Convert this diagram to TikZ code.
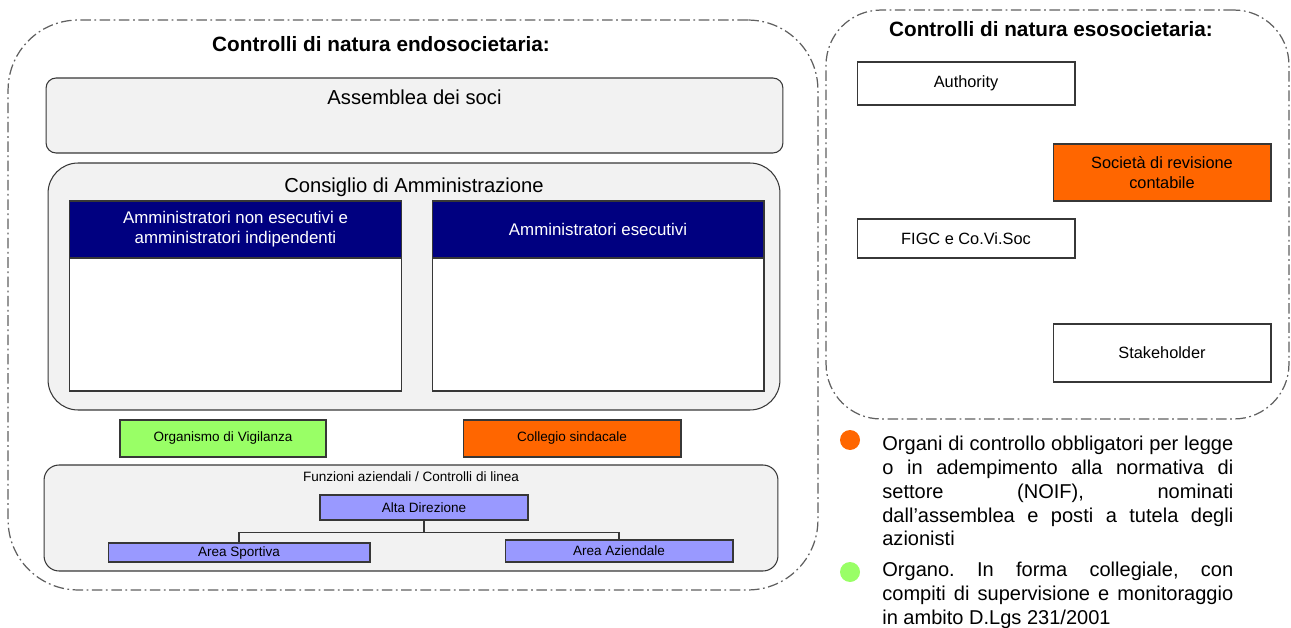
\documentclass[tikz,border=0pt]{standalone}
\usepackage{fontspec}
\setmainfont{Liberation Sans}
\usepackage{tikz}
\usetikzlibrary{positioning, calc}
\definecolor{cda_navy}{RGB}{0,0,128}
\definecolor{ctrl_orange}{RGB}{255,102,0}
\definecolor{ctrl_green}{RGB}{153,255,102}
\definecolor{ctrl_lilac}{RGB}{153,153,255}
\definecolor{panel_gray}{RGB}{242,242,242}
\definecolor{edge_gray}{RGB}{55,55,55}
\tikzstyle{ctrl_area} = [draw=gray!75!black, line width=0.7pt, dash pattern=on 6pt off 2pt on 1pt off 2pt, inner sep=0pt]
\tikzstyle{panel} = [draw=edge_gray, fill=panel_gray, line width=0.6pt, inner sep=0pt]
\tikzstyle{plainbox} = [draw=edge_gray, fill=white, line width=0.6pt, inner sep=0pt, align=center]
\tikzstyle{smallbox} = [plainbox, font=\fontsize{7.7}{9}\selectfont]
\tikzstyle{exobox} = [plainbox, font=\fontsize{9.3}{11.5}\selectfont]
\tikzstyle{cda_head} = [draw=edge_gray, fill=cda_navy, text=white, line width=0.6pt, inner sep=0pt, align=center, font=\fontsize{9.6}{11.4}\selectfont]
\tikzstyle{legend_dot} = [circle, inner sep=0pt, minimum size=0.4cm]
\tikzstyle{legend_text} = [anchor=north west, inner sep=0pt, text width=7.02cm, align=justify, font=\frenchspacing\fontsize{11.4}{13.5}\selectfont]
\tikzstyle{big_title} = [inner sep=0pt, font=\fontsize{11.8}{13.5}\bfseries\selectfont]
\tikzstyle{big_label} = [inner sep=0pt, font=\fontsize{11.5}{13.5}\selectfont]

\begin{document}
\begin{tikzpicture}[x=0.02cm, y=-0.02cm]
    \useasboundingbox (0,0) rectangle (1291,628);

    % controlli endosocietari
    \node (endo) [ctrl_area, rounded corners=1.4cm, minimum width=16.2cm, minimum height=11.4cm, at={(413,305)}] {};
    \node (endo_title) [big_title, at={(381,44)}] {Controlli di natura endosocietaria:};

    \node (assemblea) [panel, rounded corners=0.2cm, minimum width=14.74cm, minimum height=1.5cm, at={(414.5,115.5)}] {};
    \node (assemblea_label) [big_label, below=0.24cm of assemblea.north] {Assemblea dei soci};

    \node (cda) [panel, rounded corners=0.6cm, minimum width=14.64cm, minimum height=4.94cm, at={(414,286.5)}] {};
    \node (cda_label) [big_label, below=0.30cm of cda.north] {Consiglio di Amministrazione};

    \node (nonexec) [plainbox, minimum width=6.66cm, minimum height=3.8cm, at={(235.5,296)}] {};
    \node (nonexec_head) [cda_head, minimum width=6.66cm, minimum height=1.14cm, below=0pt of nonexec.north] {Amministratori non esecutivi e\\amministratori indipendenti};
    \node (exec) [plainbox, minimum width=6.64cm, minimum height=3.8cm, at={(598,296)}] {};
    \node (exec_head) [cda_head, minimum width=6.64cm, minimum height=1.14cm, below=0pt of exec.north] {Amministratori esecutivi};

    \node (odv) [smallbox, fill=ctrl_green, minimum width=4.12cm, minimum height=0.74cm, at={(223,438.5)}] {Organismo di Vigilanza};
    \node (collegio) [smallbox, fill=ctrl_orange, minimum width=4.36cm, minimum height=0.74cm, at={(572,438.5)}] {Collegio sindacale};

    \node (funzioni) [panel, rounded corners=0.3cm, minimum width=14.68cm, minimum height=2.12cm, at={(411,518)}] {};
    \node (funzioni_label) [inner sep=0pt, font=\fontsize{7.7}{9}\selectfont, below=0.14cm of funzioni.north] {Funzioni aziendali / Controlli di linea};
    \node (alta) [smallbox, fill=ctrl_lilac, minimum width=4.16cm, minimum height=0.5cm, at={(424,507.5)}] {Alta Direzione};
    \node (sportiva) [smallbox, fill=ctrl_lilac, minimum width=5.24cm, minimum height=0.38cm, at={(239,552.5)}] {Area Sportiva};
    \node (aziendale) [smallbox, fill=ctrl_lilac, minimum width=4.56cm, minimum height=0.44cm, at={(619,551)}] {Area Aziendale};

    \draw [edge_gray, line width=0.6pt] (alta.south) -- ++(0,12) -| (sportiva.north);
    \draw [edge_gray, line width=0.6pt] (alta.south) -- ++(0,12) -| (aziendale.north);

    % controlli esosocietari
    \node (eso) [ctrl_area, rounded corners=1.1cm, minimum width=9.26cm, minimum height=8.18cm, at={(1057.5,214.5)}] {};
    \node (eso_title) [big_title, at={(1051,29)}] {Controlli di natura esosocietaria:};

    \node (authority) [exobox, minimum width=4.36cm, minimum height=0.86cm, at={(966,83.5)}] {Authority};
    \node (revisione) [exobox, fill=ctrl_orange, minimum width=4.36cm, minimum height=1.14cm, at={(1162,172.5)}] {Società di revisione\\contabile};
    \node (figc) [exobox, minimum width=4.36cm, minimum height=0.78cm, at={(966,238.5)}] {FIGC e Co.Vi.Soc};
    \node (stakeholder) [exobox, minimum width=4.36cm, minimum height=1.16cm, at={(1162,353)}] {Stakeholder};

    % legenda
    \node (dot_orange) [legend_dot, fill=ctrl_orange, at={(850,440)}] {};
    \node (text_orange) [legend_text, at={(882,436)}] {Organi di controllo obbligatori per legge\linebreak o in adempimento alla normativa di\linebreak settore (NOIF), nominati\linebreak dall’assemblea e posti a tutela degli\linebreak azionisti};
    \node (dot_green) [legend_dot, fill=ctrl_green, at={(850,572)}] {};
    \node (text_green) [legend_text, at={(882,562)}] {Organo. In forma collegiale, con\linebreak compiti di supervisione e monitoraggio\linebreak in ambito D.Lgs 231/2001};

\end{tikzpicture}
\end{document}
